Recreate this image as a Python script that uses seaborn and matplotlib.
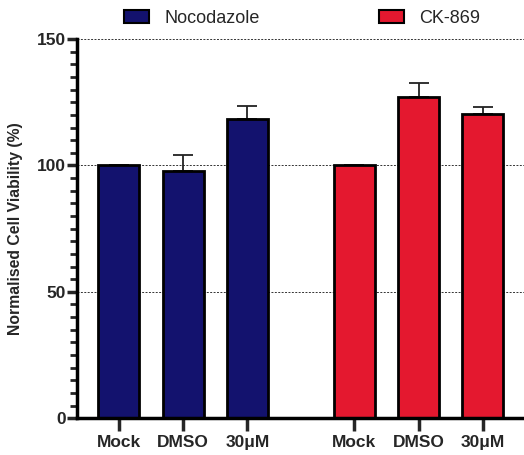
import pandas as pd
import numpy as np
import matplotlib
matplotlib.use('Agg')
import matplotlib.pyplot as plt
import seaborn as sns
from matplotlib.ticker import MultipleLocator
from matplotlib.patches import Patch

# data
conditions = ['Mock', 'DMSO', '30\u03bcM']
drugs = ['Nocodazole', 'CK-869']
noco_values = [100, 97.8, 118.5]
noco_err = [0, 6.5, 5.0]
ck_values = [100, 127.0, 120.5]
ck_err = [0, 5.5, 2.5]
positions = [0, 1, 2, 3.66, 4.66, 5.66]
colors = {'Nocodazole': '#13126e', 'CK-869': '#e4182f'}

df = pd.DataFrame({
    'pos': positions,
    'drug': [drugs[0]] * 3 + [drugs[1]] * 3,
    'cond': conditions * 2,
    'value': noco_values + ck_values,
    'err': noco_err + ck_err,
})

sns.set_style('white')
plt.rcParams['font.family'] = ['Liberation Sans', 'DejaVu Sans']

fig = plt.figure(figsize=(5.24, 4.55), dpi=100)
ax = fig.add_axes([0.147, 0.081, 0.853, 0.833])

# error bars (upper only), drawn behind the bars
ax.errorbar(df['pos'], df['value'], yerr=[np.zeros(len(df)), df['err']],
            fmt='none', ecolor='#222222', elinewidth=1.3, capsize=7.5,
            capthick=1.3, zorder=1)

sns.barplot(data=df, x='pos', y='value', hue='drug', palette=colors,
            native_scale=True, width=0.64, dodge=False, edgecolor='black',
            linewidth=2, saturation=1, legend=False, ax=ax, zorder=2)

ax.set_xlim(-0.65, 6.3)
ax.set_ylim(0, 150)
ax.set_xticks(positions)
ax.set_xticklabels(conditions * 2, fontweight='bold', fontsize=12.5)
ax.yaxis.set_major_locator(MultipleLocator(50))
ax.yaxis.set_minor_locator(MultipleLocator(5))
for lab in ax.get_yticklabels():
    lab.set_fontweight('bold')
    lab.set_fontsize(12.5)

ax.set_xlabel('')
ax.set_ylabel('Normalised Cell Viability (%)', fontweight='bold', fontsize=11.3,
              labelpad=10)

ax.grid(axis='y', which='major', linestyle=(0, (2, 1.5)), color='#333333',
        linewidth=0.7, zorder=0)
ax.set_axisbelow(True)

sns.despine(ax=ax, top=True, right=True)
ax.spines['left'].set_linewidth(2.5)
ax.spines['bottom'].set_linewidth(2.5)
ax.spines['left'].set_color('black')
ax.spines['bottom'].set_color('black')
ax.tick_params(axis='y', which='major', direction='out', length=7, width=2.5,
               left=True, pad=1)
ax.tick_params(axis='y', which='minor', direction='out', length=5, width=2,
               left=True)
ax.tick_params(axis='x', which='major', direction='out', length=9, width=2.5,
               bottom=True, pad=3)

handles = [Patch(facecolor=colors[d], edgecolor='black', linewidth=1.5, label=d)
           for d in drugs]
fig.legend(handles=handles, loc='upper left', bbox_to_anchor=(0.205, 1.014),
           ncol=2, frameon=False, fontsize=13, handlelength=1.4,
           handleheight=0.75, columnspacing=6.6, handletextpad=0.85)

fig.savefig('out.png', dpi=100)
